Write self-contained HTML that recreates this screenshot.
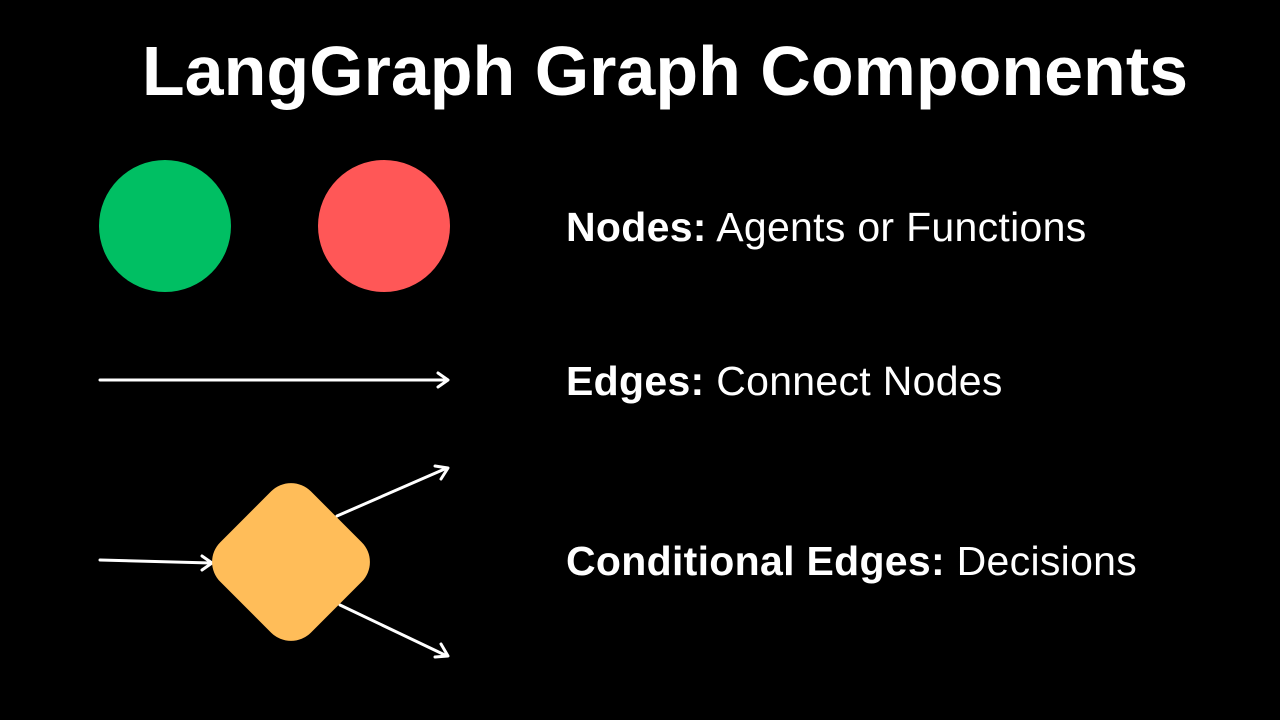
<!DOCTYPE html>
<html><head><meta charset="utf-8"><style>
html,body{margin:0;padding:0;background:#000;}
body{width:1280px;height:720px;position:relative;overflow:hidden;font-family:"Liberation Sans",sans-serif;color:#fff;}
.title{position:absolute;left:0;width:1330px;top:31px;text-align:center;font-weight:bold;font-size:70px;line-height:80px;}
.lbl{position:absolute;left:566px;font-size:41px;line-height:44px;white-space:nowrap;letter-spacing:0.3px;}
.lbl b{font-weight:bold;}
</style></head><body>
<div class="title">LangGraph Graph Components</div>
<svg width="1280" height="720" style="position:absolute;left:0;top:0">
<circle cx="165" cy="226" r="66" fill="#00BF63"/>
<circle cx="384" cy="226" r="66" fill="#FF5757"/>
<g stroke="#fff" stroke-width="3" fill="none" stroke-linecap="round" stroke-linejoin="round">
<line x1="100" y1="380" x2="447" y2="380"/>
<polyline points="438,373 448,380 438,387"/>
<line x1="100" y1="560" x2="211" y2="563"/>
<polyline points="202,556 212,563 202,570"/>
<line x1="337" y1="516" x2="447" y2="468"/>
<polyline points="435,466 448,468 441,479"/>
<line x1="340" y1="605" x2="447" y2="656"/>
<polyline points="441,644 448,656 435,657"/>
</g>
<rect x="227" y="498" width="128" height="128" rx="28" ry="28" fill="#FFBD59" transform="rotate(45 291 562)"/>
</svg>
<div class="lbl" style="top:205px"><b>Nodes:</b> Agents or Functions</div>
<div class="lbl" style="top:359px"><b>Edges:</b> Connect Nodes</div>
<div class="lbl" style="top:539px"><b>Conditional Edges:</b> Decisions</div>
</body></html>
